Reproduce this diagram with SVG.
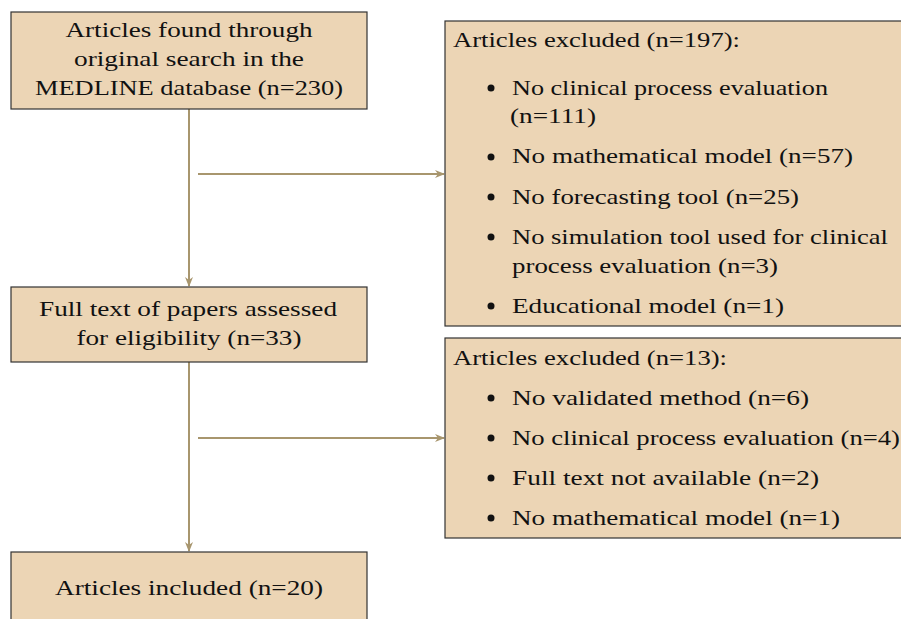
<svg xmlns="http://www.w3.org/2000/svg" width="901" height="619" viewBox="0 0 901 619">
<defs>
<style>
.box{fill:#ecd5b5;stroke:#333;stroke-width:1.2}
.t{font-family:"Liberation Serif","DejaVu Serif",serif;font-size:21.5px;fill:#111}
.c{text-anchor:middle}
.edge{stroke:#a8966e;stroke-width:2;fill:none}
.dot{fill:#111}
</style>
<marker id="arr" viewBox="0 0 10 10" refX="9" refY="5" markerWidth="10" markerHeight="10" orient="auto" markerUnits="userSpaceOnUse">
<path d="M0,1 L10,5 L0,9 L3,5 Z" fill="#a8966e"/>
</marker>
</defs>
<rect width="901" height="619" fill="#fff"/>
<g id="connectors">
<line class="edge" x1="189" y1="109" x2="189" y2="286" marker-end="url(#arr)"/>
<line class="edge" x1="198" y1="174" x2="444" y2="174" marker-end="url(#arr)"/>
<line class="edge" x1="189" y1="362" x2="189" y2="551" marker-end="url(#arr)"/>
<line class="edge" x1="198" y1="438" x2="444" y2="438" marker-end="url(#arr)"/>
</g>
<g id="n_search">
<rect class="box" x="11" y="12" width="356" height="97"/>
<text class="t c" x="189" y="37" textLength="247" lengthAdjust="spacingAndGlyphs">Articles found through</text>
<text class="t c" x="189" y="66" textLength="230" lengthAdjust="spacingAndGlyphs">original search in the</text>
<text class="t c" x="189" y="95" textLength="308" lengthAdjust="spacingAndGlyphs">MEDLINE database (n=230)</text>
</g>
<g id="n_fulltext">
<rect class="box" x="11" y="287" width="356" height="75"/>
<text class="t c" x="188" y="316" textLength="298" lengthAdjust="spacingAndGlyphs">Full text of papers assessed</text>
<text class="t c" x="189" y="345" textLength="225" lengthAdjust="spacingAndGlyphs">for eligibility (n=33)</text>
</g>
<g id="n_included">
<rect class="box" x="11" y="552" width="356" height="80"/>
<text class="t c" x="189" y="595" textLength="268" lengthAdjust="spacingAndGlyphs">Articles included (n=20)</text>
</g>
<g id="n_excluded1">
<rect class="box" x="445" y="21" width="470" height="305"/>
<text class="t" x="453" y="47" textLength="287" lengthAdjust="spacingAndGlyphs">Articles excluded (n=197):</text>
<circle class="dot" cx="491" cy="88" r="3.5"/>
<text class="t" x="512" y="95" textLength="316" lengthAdjust="spacingAndGlyphs">No clinical process evaluation</text>
<text class="t" x="510" y="123" textLength="86" lengthAdjust="spacingAndGlyphs">(n=111)</text>
<circle class="dot" cx="491" cy="157" r="3.5"/>
<text class="t" x="512" y="163" textLength="341" lengthAdjust="spacingAndGlyphs">No mathematical model (n=57)</text>
<circle class="dot" cx="491" cy="197" r="3.5"/>
<text class="t" x="512" y="204" textLength="287" lengthAdjust="spacingAndGlyphs">No forecasting tool (n=25)</text>
<circle class="dot" cx="491" cy="237" r="3.5"/>
<text class="t" x="512" y="244" textLength="376" lengthAdjust="spacingAndGlyphs">No simulation tool used for clinical</text>
<text class="t" x="512" y="273" textLength="266" lengthAdjust="spacingAndGlyphs">process evaluation (n=3)</text>
<circle class="dot" cx="491" cy="306" r="3.5"/>
<text class="t" x="512" y="313" textLength="272" lengthAdjust="spacingAndGlyphs">Educational model (n=1)</text>
</g>
<g id="n_excluded2">
<rect class="box" x="445" y="338" width="470" height="200"/>
<text class="t" x="453" y="365" textLength="274" lengthAdjust="spacingAndGlyphs">Articles excluded (n=13):</text>
<circle class="dot" cx="491" cy="398" r="3.5"/>
<text class="t" x="512" y="405" textLength="297" lengthAdjust="spacingAndGlyphs">No validated method (n=6)</text>
<circle class="dot" cx="491" cy="438" r="3.5"/>
<text class="t" x="512" y="445" textLength="388" lengthAdjust="spacingAndGlyphs">No clinical process evaluation (n=4)</text>
<circle class="dot" cx="491" cy="478" r="3.5"/>
<text class="t" x="512" y="485" textLength="307" lengthAdjust="spacingAndGlyphs">Full text not available (n=2)</text>
<circle class="dot" cx="491" cy="518" r="3.5"/>
<text class="t" x="512" y="525" textLength="328" lengthAdjust="spacingAndGlyphs">No mathematical model (n=1)</text>
</g>
</svg>
